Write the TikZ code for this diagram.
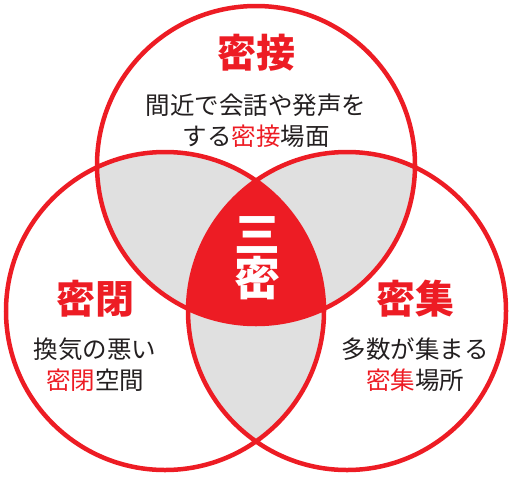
\documentclass[tikz,border=0pt]{standalone}
\usepackage{fontspec}
\setmainfont{Noto Sans CJK JP}
\definecolor{mitsured}{HTML}{ED1C24}
\definecolor{mitsugray}{HTML}{E0E0E0}
\definecolor{mitsutext}{HTML}{231F20}

\begin{document}
\begin{tikzpicture}[x=1pt, y=-1pt, inner sep=0pt]
	\tikzstyle{every node}=[align=center, text=mitsutext]
	\tikzstyle{title}=[font=\fontsize{39}{39}\selectfont\bfseries, text=mitsured]
	\tikzstyle{body}=[font=\fontsize{24.5}{31}\selectfont]
	\useasboundingbox (0,0) rectangle (510,477);
		\coordinate (top)   at (256,165);
		\coordinate (left)  at (165,311);
		\coordinate (right) at (347,311);

		% overlaps of two circles
		\begin{scope}
			\clip (top) circle (159pt);
			\fill[mitsugray] (left) circle (159pt);
			\fill[mitsugray] (right) circle (159pt);
		\end{scope}
		\begin{scope}
			\clip (left) circle (159pt);
			\fill[mitsugray] (right) circle (159pt);
		\end{scope}
		% overlap of all three
		\begin{scope}
			\clip (top) circle (159pt);
			\clip (left) circle (159pt);
			\fill[mitsured] (right) circle (159pt);
		\end{scope}
		\draw[mitsured, line width=4.5pt] (top) circle (159pt) (left) circle (159pt) (right) circle (159pt);

		\node[title] (close)   at (256,53)  {密接};
		\node[body]  (closet)  at (256,121) {間近で会話や発声を\\する{\color{mitsured}密接}場面};
		\node[title] (closed)  at (95,299)  {密閉};
		\node[body]  (closedt) at (95,365)  {換気の悪い\\{\color{mitsured}密閉}空間};
		\node[title] (crowd)   at (415,299) {密集};
		\node[body]  (crowdt)  at (415,365) {多数が集まる\\{\color{mitsured}密集}場所};
		\node[font=\fontsize{46}{44}\selectfont\bfseries, text=white] (three) at (257,258) {三\\密};
	\end{tikzpicture}
\end{document}
